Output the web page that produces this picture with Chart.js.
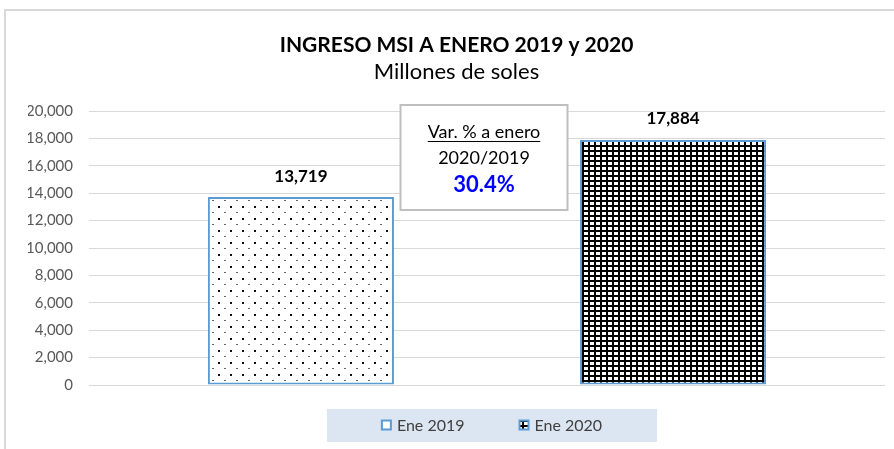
<!DOCTYPE html>
<html>
<head>
<meta charset="utf-8">
<script src="https://cdn.jsdelivr.net/npm/chart.js@4.4.1/dist/chart.umd.min.js"></script>
<style>
  html, body { margin: 0; padding: 0; background: #fff; overflow: hidden; }
  #wrap { position: relative; width: 894px; height: 449px; overflow: hidden; }
  #frame { position: absolute; left: 4px; top: 9px; width: 920px; height: 470px; border: 2px solid #d9d9d9; box-sizing: border-box; }
  #ingresoChart { position: absolute; left: 0; top: 0; }
</style>
</head>
<body>
<div id="wrap">
  <div id="frame"></div>
  <canvas id="ingresoChart" width="894" height="449"></canvas>
</div>
<script>
const CHART_TITLE = "INGRESO MSI A ENERO 2019 y 2020";
const CHART_SUBTITLE = "Millones de soles";
const CATEGORIES = [""];
const SERIES_NAMES = ["Ene 2019", "Ene 2020"];
const SERIES_VALUES = [13719, 17884];
const Y_TICKS = [0, 2000, 4000, 6000, 8000, 10000, 12000, 14000, 16000, 18000, 20000];
const NOTE_LINES = ["Var. % a enero", "2020/2019"];

const FONT = "Lato, 'Open Sans', sans-serif";
const BORDER_BLUE = "#5b9bd5";

function fmt(v) {
  return Number(v).toLocaleString("en-US");
}

function dotPattern() {
  const c = document.createElement("canvas");
  c.width = 12;
  c.height = 12;
  const g = c.getContext("2d");
  g.fillStyle = "#fff";
  g.fillRect(0, 0, 12, 12);
  g.fillStyle = "#111";
  g.fillRect(2, 2, 2, 2);
  g.fillStyle = "#666";
  g.fillRect(8, 8, 2, 1);
  return g.createPattern(c, "repeat");
}

function gridPattern() {
  const c = document.createElement("canvas");
  c.width = 6;
  c.height = 5;
  const g = c.getContext("2d");
  g.fillStyle = "#fff";
  g.fillRect(0, 0, 6, 5);
  g.fillStyle = "#000";
  g.fillRect(0, 0, 2, 5);
  g.fillRect(0, 0, 6, 2);
  return g.createPattern(c, "repeat");
}

// value labels above each bar
const valueLabels = {
  id: "valueLabels",
  afterDatasetsDraw(chart) {
    const ctx = chart.ctx;
    ctx.save();
    ctx.font = "bold 17px " + FONT;
    ctx.fillStyle = "#000";
    ctx.textAlign = "center";
    ctx.textBaseline = "middle";
    chart.data.datasets.forEach((ds, i) => {
      chart.getDatasetMeta(i).data.forEach((bar, j) => {
        ctx.fillText(fmt(ds.data[j]), bar.x, bar.y - 21);
      });
    });
    ctx.restore();
  },
};

// text box with the percent change
const noteBox = {
  id: "noteBox",
  afterDatasetsDraw(chart) {
    const ctx = chart.ctx;
    const x = chart.scales.x;
    const y = chart.scales.y;
    const cx = (x.left + x.right) / 2 - 3;
    const top = y.getPixelForValue(Y_TICKS[Y_TICKS.length - 1]) - 6;
    const w = 167, h = 105;
    const pct = (SERIES_VALUES[1] / SERIES_VALUES[0] - 1) * 100;

    ctx.save();
    ctx.fillStyle = "#fff";
    ctx.fillRect(cx - w / 2, top, w, h);
    ctx.strokeStyle = "#bfbfbf";
    ctx.lineWidth = 2;
    ctx.strokeRect(cx - w / 2, top, w, h);

    ctx.textAlign = "center";
    ctx.textBaseline = "middle";
    ctx.fillStyle = "#000";
    ctx.font = "18px " + FONT;
    ctx.fillText(NOTE_LINES[0], cx, top + 27);
    const tw = ctx.measureText(NOTE_LINES[0]).width;
    ctx.fillRect(cx - tw / 2, top + 36, tw, 1);
    ctx.fillText(NOTE_LINES[1], cx, top + 53);
    ctx.font = "bold 22px " + FONT;
    ctx.fillStyle = "#0000ff";
    ctx.fillText(pct.toFixed(1) + "%", cx, top + 80);
    ctx.restore();
  },
};

// legend band at the bottom, Excel style
const legendBand = {
  id: "legendBand",
  afterDraw(chart) {
    const ctx = chart.ctx;
    const area = chart.chartArea;
    const box = 9, gapText = 6, gapItem = 55, margin = 55;
    ctx.save();
    ctx.font = "16px " + FONT;
    const widths = chart.data.datasets.map(
      (ds) => box + gapText + ctx.measureText(ds.label).width
    );
    const total = widths.reduce((a, b) => a + b, 0) + gapItem * (widths.length - 1);
    let x = (area.left + area.right) / 2 + 5 - total / 2;
    const yMid = area.bottom + 40;

    ctx.fillStyle = "#dce6f2";
    ctx.fillRect(x - margin, yMid - 16, total + margin * 2, 33);

    ctx.textBaseline = "middle";
    ctx.textAlign = "left";
    chart.data.datasets.forEach((ds, i) => {
      ctx.fillStyle = i === 0 ? "#fff" : ds.backgroundColor;
      ctx.fillRect(x, yMid - box / 2, box, box);
      ctx.strokeStyle = BORDER_BLUE;
      ctx.lineWidth = 2;
      ctx.strokeRect(x, yMid - box / 2, box, box);
      ctx.fillStyle = "#404040";
      ctx.fillText(ds.label, x + box + gapText, yMid + 1);
      x += widths[i] + gapItem;
    });
    ctx.restore();
  },
};

const ctx = document.getElementById("ingresoChart");
const patterns = [dotPattern(), gridPattern()];

new Chart(ctx, {
  type: "bar",
  data: {
    labels: CATEGORIES,
    datasets: SERIES_NAMES.map((name, i) => ({
      label: name,
      data: [SERIES_VALUES[i]],
      backgroundColor: patterns[i],
      borderColor: BORDER_BLUE,
      borderWidth: 2,
      borderSkipped: false,
      barPercentage: 0.5,
      categoryPercentage: 0.935,
    })),
  },
  options: {
    responsive: false,
    animation: false,
    devicePixelRatio: 1,
    layout: {
      padding: { left: 28, right: 9, top: 0, bottom: 64 },
    },
    scales: {
      x: {
        display: false,
      },
      y: {
        min: 0,
        max: 20000,
        afterBuildTicks(scale) {
          scale.ticks = Y_TICKS.map((v) => ({ value: v }));
        },
        afterFit(scale) {
          scale.width = 61;
        },
        border: { display: false },
        grid: {
          color: "#d9d9d9",
          lineWidth: 1,
          drawTicks: false,
        },
        ticks: {
          padding: 16,
          color: "#595959",
          font: { family: FONT, size: 15 },
          callback: (v) => fmt(v),
        },
      },
    },
    plugins: {
      legend: { display: false },
      tooltip: { enabled: false },
      title: {
        display: true,
        text: CHART_TITLE,
        color: "#000",
        font: { family: FONT, size: 21, weight: "bold", lineHeight: 1.2 },
        padding: { top: 32.4, bottom: 0 },
      },
      subtitle: {
        display: true,
        text: CHART_SUBTITLE,
        color: "#000",
        font: { family: FONT, size: 22, weight: "normal", lineHeight: 1.2 },
        padding: { top: 1.2, bottom: 25.8 },
      },
    },
  },
  plugins: [valueLabels, noteBox, legendBand],
});
</script>
</body>
</html>
